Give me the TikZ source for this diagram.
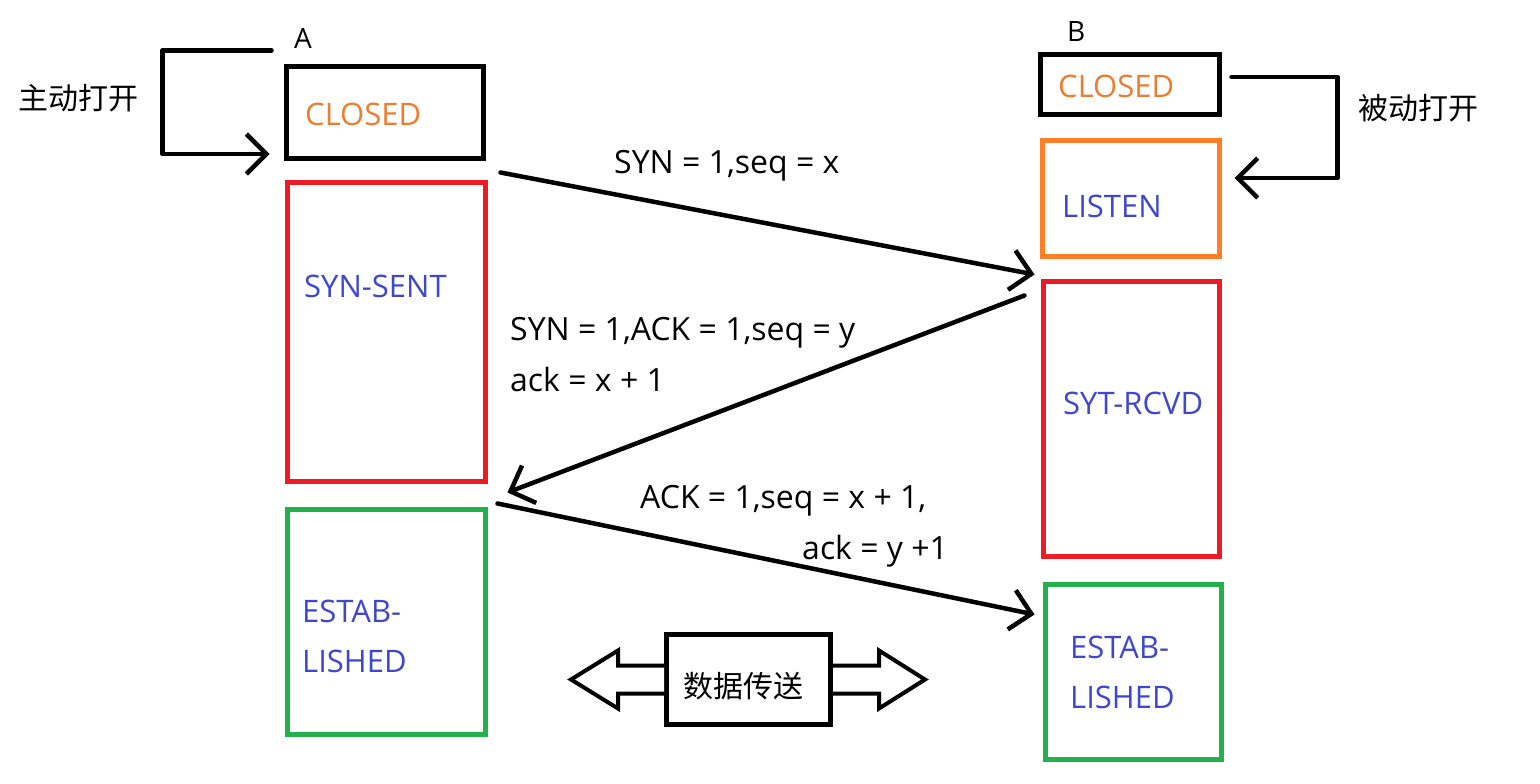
\documentclass[tikz,border=0pt]{standalone}
\usepackage{fontspec}
\setmainfont{Open Sans}
\newfontfamily\cjk{Noto Sans CJK SC}
\usetikzlibrary{arrows.meta,calc}
\definecolor{txtorange}{RGB}{237,125,49}
\definecolor{txtblue}{RGB}{63,72,204}
\definecolor{boxred}{RGB}{237,28,36}
\definecolor{boxgreen}{RGB}{34,177,76}
\definecolor{boxorange}{RGB}{255,127,39}
\begin{document}
\begin{tikzpicture}[x=1pt,y=-1pt,
  box/.style={draw, rectangle, line width=5pt, inner sep=0pt},
  lbl/.style={anchor=base west, inner sep=0pt, font=\fontsize{32}{51}\selectfont, align=left},
  boxlbl/.style={anchor=base west, inner sep=0pt, font=\fontsize{31}{50}\selectfont, align=left},
  cjklbl/.style={inner sep=0pt, font=\cjk\fontsize{30}{34}\selectfont},
  conn/.style={line width=4.5pt, line cap=round, line join=round, -{Straight Barb[length=20pt,width=40pt]}},
  hollow/.style={draw, fill=white, line width=4pt, line join=miter}]
\useasboundingbox (0,0) rectangle (1540,784);
\fill[white] (0,0) rectangle (1540,784);
% boxes
\node[box, draw=black, minimum width=197pt, minimum height=92pt] (closedA) at (385,112.5) {};
\node[box, draw=boxred, minimum width=198pt, minimum height=299pt] (synsent) at (386.5,332) {};
\node[box, draw=boxgreen, minimum width=198pt, minimum height=225pt] (estabA) at (386.5,622) {};
\node[box, draw=black, minimum width=179pt, minimum height=59pt] (closedB) at (1130,84.5) {};
\node[box, draw=boxorange, minimum width=177pt, minimum height=116pt] (listen) at (1130.5,198.5) {};
\node[box, draw=boxred, minimum width=176pt, minimum height=275pt] (syt) at (1131.5,419) {};
\node[box, draw=boxgreen, minimum width=176pt, minimum height=175pt] (estabB) at (1133.5,672) {};
\node[box, draw=black, minimum width=164pt, minimum height=90pt] (data) at (748.5,679.5) {};
% box texts
\node[boxlbl, text=txtorange] (tclosedA) at (305,125) {CLOSED};
\node[boxlbl, text=txtblue] (tsynsent) at (304,297) {SYN-SENT};
\node[boxlbl, text=txtblue] (testabA) at (302,672) {ESTAB-\\LISHED};
\node[boxlbl, text=txtorange] (tclosedB) at (1058,97) {CLOSED};
\node[boxlbl, text=txtblue] (tlisten) at (1062,217) {LISTEN};
\node[boxlbl, text=txtblue] (tsyt) at (1063,414) {SYT-RCVD};
\node[boxlbl, text=txtblue] (testabB) at (1070,708) {ESTAB-\\LISHED};
\node[cjklbl] (tdata) at (743,686) {数据传送};
% titles
\node[anchor=base west, inner sep=0pt, font=\fontsize{28}{32}\selectfont] (tA) at (294,49) {A};
\node[anchor=base west, inner sep=0pt, font=\fontsize{28}{32}\selectfont] (tB) at (1067,42) {B};
\node[cjklbl] (tactive) at (79,98) {主动打开};
\node[cjklbl] (tpassive) at (1418,108) {被动打开};
% loops
\coordinate (la1) at ($(closedA.north west)+(-12.5,-13.5)$);
\coordinate (la2) at ($(closedA.west)+(-14.5,41.5)$);
\draw[conn] (la1) -- ++(-109,0) |- (la2);
\coordinate (lb1) at ($(closedB.east)+(9.5,-7.5)$);
\coordinate (lb2) at ($(listen.east)+(13,-20.5)$);
\draw[conn] (lb1) -- ++(106,0) |- (lb2);
% handshake arrows
\coordinate (a1s) at ($(closedA.south east)+(14.5,11.5)$);
\coordinate (a1e) at ($(syt.north west)+(-6.5,-4.5)$);
\draw[conn] (a1s) -- (a1e);
\coordinate (a2s) at ($(syt.north west)+(-16.5,16.5)$);
\coordinate (a2e) at ($(synsent.south east)+(19.5,8.5)$);
\draw[conn] (a2s) -- (a2e);
\coordinate (a3s) at ($(estabA.north east)+(9.5,-3.5)$);
\coordinate (a3e) at ($(estabB.north west)+(-8.5,32.5)$);
\draw[conn] (a3s) -- (a3e);
% arrow labels
\node[lbl] (l1) at (614,173) {SYN = 1,seq = x};
\node[lbl] (l2) at (510,391) {SYN = 1,ACK = 1,seq = y\\ack = x + 1};
\node[lbl] (l3) at (640,508) {ACK = 1,seq = x + 1,};
\node[lbl] (l4) at (802,559) {ack = y +1};
% hollow data arrows
\draw[hollow] ($(data.west)+(0,-14)$) -- ++(-46,0) -- ++(0,-15) -- ++(-47,29) -- ++(47,29) -- ++(0,-15) -- ++(46,0);
\draw[hollow] ($(data.east)+(0,-14)$) -- ++(46,0) -- ++(0,-15) -- ++(46,29) -- ++(-46,29) -- ++(0,-15) -- ++(-46,0);
\end{tikzpicture}
\end{document}
